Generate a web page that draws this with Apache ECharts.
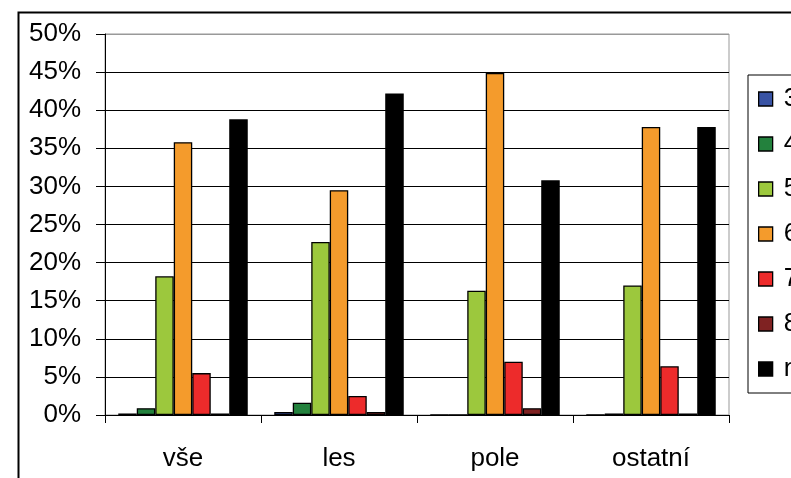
<!DOCTYPE html>
<html>
<head>
<meta charset="utf-8">
<script src="https://cdn.jsdelivr.net/npm/echarts@6/dist/echarts.min.js"></script>
<style>html,body{margin:0;padding:0;background:#fff;}#c{width:791px;height:478px;}</style>
</head>
<body>
<div id="c"></div>
<script>
const categories = ['vše', 'les', 'pole', 'ostatní'];
const seriesNames = ['3', '4', '5', '6', '7', '8', 'nezjištěno'];
const s3 = [0.2, 0.4, 0, 0];
const s4 = [0.9, 1.6, 0, 0.2];
const s5 = [18.2, 22.7, 16.3, 17.0];
const s6 = [35.8, 29.5, 44.9, 37.8];
const s7 = [5.5, 2.5, 7.0, 6.4];
const s8 = [0.2, 0.4, 0.9, 0.2];
const sN = [38.8, 42.2, 30.8, 37.8];
const yTicks = [0, 5, 10, 15, 20, 25, 30, 35, 40, 45, 50];
const colors = ['#3953a4', '#23813d', '#9cc83d', '#f49b2c', '#ed2b2b', '#7f2222', '#000000'];

const allData = [s3, s4, s5, s6, s7, s8, sN];
const font = 'Liberation Sans, Arial, sans-serif';
const chart = echarts.init(document.getElementById('c'), null, {renderer: 'canvas'});
chart.setOption({
  animation: false,
  backgroundColor: '#fff',
  color: colors,
  graphic: [{
    type: 'rect', left: 16, top: 10, silent: true,
    shape: {width: 1000, height: 1000},
    style: {fill: 'none', stroke: '#000', lineWidth: 2}
  }],
  grid: {left: 105, right: 62, top: 34, bottom: 63, show: true, borderColor: '#999', borderWidth: 1},
  legend: {
    orient: 'vertical', left: 748, top: 75,
    data: seriesNames,
    icon: 'rect', itemWidth: 14, itemHeight: 14, itemGap: 19,
    padding: [11, 120, 11, 10],
    borderColor: '#000', borderWidth: 1,
    textStyle: {fontFamily: font, fontSize: 26, color: '#000', lineHeight: 24, padding: [0, 0, 0, 6]},
    itemStyle: {borderColor: '#000', borderWidth: 1.3}
  },
  xAxis: {
    type: 'category', data: categories,
    axisLine: {lineStyle: {color: '#000', width: 1}},
    axisTick: {show: true, length: 8, lineStyle: {color: '#000'}},
    axisLabel: {fontFamily: font, fontSize: 26, color: '#000', margin: 31},
    splitLine: {show: false}
  },
  yAxis: {
    type: 'value', min: 0, max: 50, interval: 5,
    axisLine: {show: true, lineStyle: {color: '#000', width: 1}},
    axisTick: {show: true, length: 9, lineStyle: {color: '#000'}},
    axisLabel: {fontFamily: font, fontSize: 26, color: '#000', margin: 24, formatter: '{value}%'},
    splitLine: {show: true, lineStyle: {color: ['#000','#000','#000','#000','#000','#000','#000','#000','#000','#000','#999'], width: 1}}
  },
  series: seriesNames.map((n, i) => ({
    name: n, type: 'bar', data: allData[i],
    barGap: '0%', barCategoryGap: '17%',
    itemStyle: {color: colors[i], borderColor: '#000', borderWidth: 1.3}
  }))
});
</script>
</body>
</html>
